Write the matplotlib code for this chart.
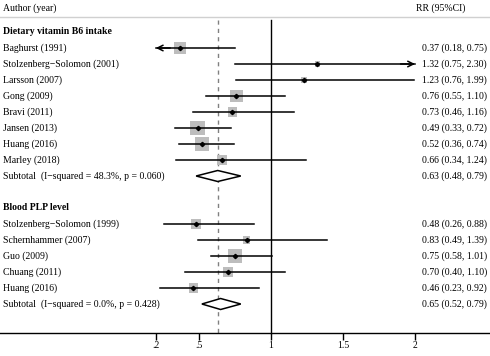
import matplotlib.pyplot as plt
from matplotlib.patches import Rectangle, Polygon

# data
diet_label = "Dietary vitamin B6 intake"
diet_studies = ["Baghurst (1991)", "Stolzenberg\u2212Solomon (2001)", "Larsson (2007)",
                "Gong (2009)", "Bravi (2011)", "Jansen (2013)", "Huang (2016)", "Marley (2018)"]
diet_rr = [0.37, 1.32, 1.23, 0.76, 0.73, 0.49, 0.52, 0.66]
diet_lo = [0.18, 0.75, 0.76, 0.55, 0.46, 0.33, 0.36, 0.34]
diet_hi = [0.75, 2.30, 1.99, 1.10, 1.16, 0.72, 0.74, 1.24]
diet_w = [10.3, 1.8, 2.6, 10.3, 5.8, 14.0, 14.0, 5.8]
diet_sub = (0.63, 0.48, 0.79)
diet_het = "Subtotal  (I\u2212squared = 48.3%, p = 0.060)"

blood_label = "Blood PLP level"
blood_studies = ["Stolzenberg\u2212Solomon (1999)", "Schernhammer (2007)", "Guo (2009)",
                 "Chuang (2011)", "Huang (2016)"]
blood_rr = [0.48, 0.83, 0.75, 0.70, 0.46]
blood_lo = [0.26, 0.49, 0.58, 0.40, 0.23]
blood_hi = [0.88, 1.39, 1.01, 1.10, 0.92]
blood_w = [7.1, 3.5, 12.1, 7.1, 5.8]
blood_sub = (0.65, 0.52, 0.79)
blood_het = "Subtotal  (I\u2212squared = 0.0%, p = 0.428)"

overall = 0.63
ticks = [0.2, 0.5, 1, 1.5, 2]
tick_labels = [".2", ".5", "1", "1.5", "2"]
clip_lo, clip_hi = 0.2, 2.0

plt.rcParams["font.family"] = "Liberation Serif"
FS = 7.0

fig = plt.figure(figsize=(4.9, 3.56), dpi=100)
ax = fig.add_axes([0, 0, 1, 1])

# pixel -> data helpers (1 unit RR = 144 px, RR 1 at x=271 px; one row = 16 px)
def px(x):
    return 1 + (x - 271) / 144.0

def row(y):
    return (y - 32) / 16.0

ax.set_xlim(px(0), px(490))
ax.set_ylim(row(356), row(0))

def fmt(rr, lo, hi):
    return "%.2f (%.2f, %.2f)" % (rr, lo, hi)

def draw_study(r, name, rr, lo, hi, w):
    ax.text(px(3), r, name, fontsize=FS, va="center", ha="left")
    ax.text(px(422), r, fmt(rr, lo, hi), fontsize=FS, va="center", ha="left")
    side = 3.8 * w ** 0.5
    ax.add_patch(Rectangle((rr - side / 288.0, r - side / 32.0), side / 144.0, side / 16.0,
                           facecolor="#bdbdbd", edgecolor="none", zorder=2))
    a, b = max(lo, clip_lo), min(hi, clip_hi)
    ax.plot([a, b], [r, r], color="black", lw=1.1, zorder=3)
    if lo < clip_lo:
        ax.annotate("", xy=(clip_lo, r), xytext=(clip_lo + 0.1, r),
                    arrowprops=dict(arrowstyle="->", lw=1.1, color="black",
                                    shrinkA=0, shrinkB=0), zorder=3)
    if hi > clip_hi:
        ax.annotate("", xy=(clip_hi, r), xytext=(clip_hi - 0.1, r),
                    arrowprops=dict(arrowstyle="->", lw=1.1, color="black",
                                    shrinkA=0, shrinkB=0), zorder=3)
    ax.plot(rr, r, marker="D", markersize=2.2, color="black", zorder=4)

def draw_sub(r, text, sub):
    est, lo, hi = sub
    ax.text(px(3), r, text, fontsize=FS, va="center", ha="left")
    ax.text(px(422), r, fmt(est, lo, hi), fontsize=FS, va="center", ha="left")
    h = 5.5 / 16.0
    ax.add_patch(Polygon([(lo, r), (est, r - h), (hi, r), (est, r + h)], closed=True,
                         facecolor="white", edgecolor="black", lw=1.1, zorder=3))

r = 0
ax.text(px(3), r, diet_label, fontsize=FS, fontweight="bold", va="center", ha="left")
for i in range(len(diet_studies)):
    r += 1
    draw_study(r, diet_studies[i], diet_rr[i], diet_lo[i], diet_hi[i], diet_w[i])
r += 1
draw_sub(r, diet_het, diet_sub)
r += 2
ax.text(px(3), r, blood_label, fontsize=FS, fontweight="bold", va="center", ha="left")
for i in range(len(blood_studies)):
    r += 1
    draw_study(r, blood_studies[i], blood_rr[i], blood_lo[i], blood_hi[i], blood_w[i])
r += 1
draw_sub(r, blood_het, blood_sub)

# header
ax.text(px(3), row(8), "Author (year)", fontsize=FS, va="center", ha="left")
ax.text(px(416), row(8), "RR (95%CI)", fontsize=FS, va="center", ha="left")
ax.axhline(row(17), color="#d0d0d0", lw=1.0)

axis_row = row(333)
ax.plot([1, 1], [row(20), axis_row], color="black", lw=1.0, zorder=1)
ax.plot([overall, overall], [row(20), axis_row], color="#808080", lw=1.0,
        ls=(0, (3, 3)), zorder=1)

# x axis
for s in ["top", "left", "right"]:
    ax.spines[s].set_visible(False)
ax.spines["bottom"].set_position(("data", axis_row))
ax.spines["bottom"].set_linewidth(1.0)
ax.set_xticks(ticks)
ax.set_xticklabels(tick_labels, fontsize=FS)
ax.tick_params(axis="x", direction="out", length=5, width=1.0, pad=1)
ax.set_yticks([])

fig.savefig("out.png", dpi=100)
